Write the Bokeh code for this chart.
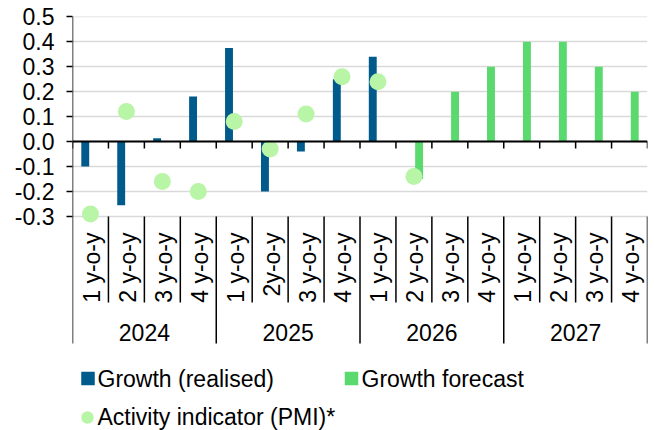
import numpy as np
from bokeh.plotting import figure
from bokeh.models import Range1d, FixedTicker, NumeralTickFormatter, Span
from bokeh.core.properties import value
from bokeh.embed import file_html
from bokeh.resources import INLINE

# ---------------- data ----------------
years = ["2024", "2025", "2026", "2027"]
quarter_labels = ["1 y-o-y", "2 y-o-y", "3 y-o-y", "4 y-o-y",
                  "1 y-o-y", "2y-o-y", "3 y-o-y", "4 y-o-y",
                  "1 y-o-y", "2 y-o-y", "3 y-o-y", "4 y-o-y",
                  "1 y-o-y", "2 y-o-y", "3 y-o-y", "4 y-o-y"]
growth_realised = [-0.10, -0.255, 0.013, 0.18, 0.375, -0.20, -0.04, 0.25, 0.34,
                   None, None, None, None, None, None, None]
growth_forecast = [None, None, None, None, None, None, None, None, None,
                   -0.15, 0.20, 0.30, 0.40, 0.40, 0.30, 0.20]
pmi = [-0.29, 0.12, -0.16, -0.20, 0.08, -0.03, 0.11, 0.26, 0.24, -0.14,
       None, None, None, None, None, None]
y_ticks = [-0.3, -0.2, -0.1, 0.0, 0.1, 0.2, 0.3, 0.4, 0.5]
legend_labels = ["Growth (realised)", "Growth forecast", "Activity indicator (PMI)*"]

# ---------------- layout ----------------
W, H = 654, 430
LEFT, RIGHT, TOP = 72, 647, 16
PPU = 249.6                      # pixels per unit on the value axis
Y_TOP = 0.501
Y_BOT = Y_TOP - (H - TOP) / PPU
NCAT = len(quarter_labels)
CATW = (RIGHT - LEFT) / NCAT

def ypx(pix):
    return Y_TOP - (pix - TOP) / PPU

def xpx(pix):
    return (pix - LEFT) / CATW

FONT = value("Liberation Sans")
FS = "23px"
BLUE = "#005A8C"
GREEN = "#59D96E"
LIGHT = "#B9F5A7"
GRID = "#D9D9D9"

p = figure(width=W, height=H, x_range=Range1d(0, NCAT), y_range=Range1d(Y_BOT, Y_TOP),
           output_backend="svg", toolbar_location=None, x_axis_location=None,
           min_border_left=LEFT, min_border_right=W - RIGHT, min_border_top=TOP,
           min_border_bottom=0)
p.outline_line_color = None
p.background_fill_color = "white"
p.border_fill_color = "white"

ax = p.yaxis[0]
ax.ticker = FixedTicker(ticks=y_ticks)
ax.formatter = NumeralTickFormatter(format="0.0")
ax.axis_line_color = None
ax.major_tick_out = 6
ax.major_tick_in = 0
ax.major_tick_line_color = "black"
ax.major_tick_line_width = 1.5
ax.minor_tick_out = 0
ax.minor_tick_in = 0
ax.major_label_text_font = "Liberation Sans"
ax.major_label_text_font_size = FS
ax.major_label_text_color = "black"
ax.major_label_standoff = 12

for g in p.grid:
    if g.dimension == 1:
        g.ticker = FixedTicker(ticks=y_ticks)
        g.grid_line_color = GRID
        g.grid_line_width = 1.5
    else:
        g.grid_line_color = None

idx = np.arange(NCAT)
centers = idx + 0.5
BAR_W = 0.22
OFF = 0.145

r_idx = [i for i, v in enumerate(growth_realised) if v is not None]
f_idx = [i for i, v in enumerate(growth_forecast) if v is not None]
m_idx = [i for i, v in enumerate(pmi) if v is not None]

p.vbar(x=[centers[i] - OFF for i in r_idx], top=[growth_realised[i] for i in r_idx],
       bottom=0, width=BAR_W, fill_color=BLUE, line_color=None)
p.vbar(x=[centers[i] + OFF for i in f_idx], top=[growth_forecast[i] for i in f_idx],
       bottom=0, width=BAR_W, fill_color=GREEN, line_color=None)

# zero axis line with category ticks
p.add_layout(Span(location=0, dimension="width", line_color="black", line_width=2))
bounds = np.arange(NCAT + 1)
tick_len = 7 / PPU
p.segment(x0=bounds, x1=bounds, y0=[0] * len(bounds), y1=[-tick_len] * len(bounds),
          line_color="black", line_width=1.5)

# value axis line
p.segment(x0=[0], x1=[0], y0=[0.5 + 1 / PPU], y1=[ypx(343)], line_color="black", line_width=1.5)

# category separators below the plot
q_b = [b for b in bounds if b % 4 != 0]
y_b = [b for b in bounds if b % 4 == 0 and b != 0]
p.segment(x0=q_b, x1=q_b, y0=[-0.3] * len(q_b), y1=[ypx(302)] * len(q_b),
          line_color="black", line_width=1.5)
p.segment(x0=y_b, x1=y_b, y0=[-0.3] * len(y_b), y1=[ypx(343)] * len(y_b),
          line_color="black", line_width=1.5)

# PMI dots
p.scatter(x=[centers[i] for i in m_idx], y=[pmi[i] for i in m_idx], size=17,
          marker="circle", fill_color=LIGHT, line_color=None)

# category labels
p.text(x=centers + 0.04, y=[ypx(232)] * NCAT, text=quarter_labels, angle=np.pi / 2,
       text_align="right", text_baseline="middle", text_font=FONT,
       text_font_size=FS, text_color="black")
year_centers = [4 * k + 2 for k in range(len(years))]
p.text(x=year_centers, y=[ypx(332)] * len(years), text=years, text_align="center",
       text_baseline="middle", text_font=FONT, text_font_size=FS, text_color="black")

# legend (drawn manually)
p.scatter(x=[xpx(87.5), xpx(351)], y=[ypx(378), ypx(378)], marker="square", size=13.5,
          fill_color=[BLUE, GREEN], line_color=None)
p.scatter(x=[xpx(87)], y=[ypx(417)], marker="circle", size=12.5,
          fill_color=LIGHT, line_color=None)
p.text(x=[xpx(97), xpx(361), xpx(97)], y=[ypx(378), ypx(378), ypx(416)],
       text=legend_labels, text_align="left", text_baseline="middle",
       text_font=FONT, text_font_size=FS, text_color="black")

open("out.html", "w").write(file_html(p, INLINE))
